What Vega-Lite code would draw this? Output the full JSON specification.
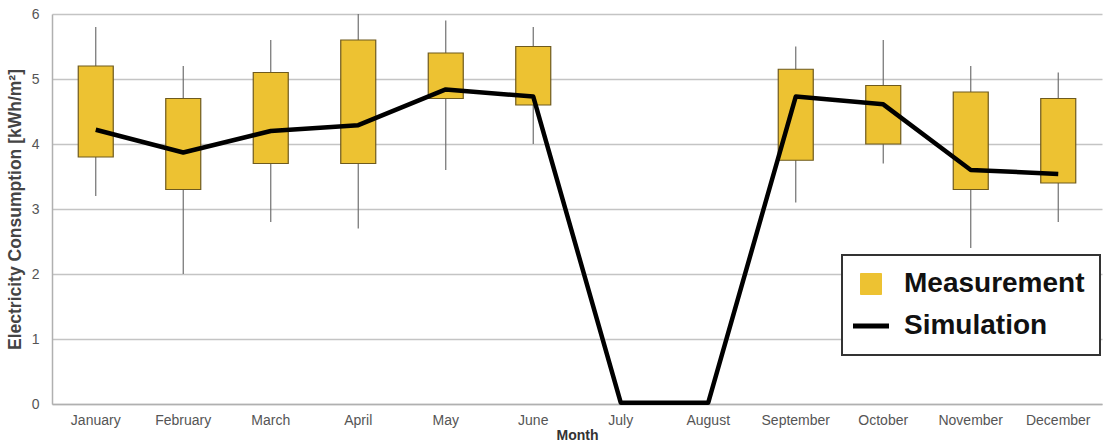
{
  "$schema": "https://vega.github.io/schema/vega-lite/v6.json",
  "width": 1050,
  "height": 390,
  "autosize": {"type": "none"},
  "padding": {"left": 52, "top": 14, "right": 5, "bottom": 41},
  "background": "white",
  "config": {
    "view": {"stroke": null},
    "font": "Liberation Sans"
  },
  "data": {
    "values": [
      {"month": "January", "wlo": 3.2, "q1": 3.8, "q3": 5.2, "whi": 5.8, "sim": 4.22},
      {"month": "February", "wlo": 2.0, "q1": 3.3, "q3": 4.7, "whi": 5.2, "sim": 3.87},
      {"month": "March", "wlo": 2.8, "q1": 3.7, "q3": 5.1, "whi": 5.6, "sim": 4.2},
      {"month": "April", "wlo": 2.7, "q1": 3.7, "q3": 5.6, "whi": 6.0, "sim": 4.29},
      {"month": "May", "wlo": 3.6, "q1": 4.7, "q3": 5.4, "whi": 5.9, "sim": 4.84},
      {"month": "June", "wlo": 4.0, "q1": 4.6, "q3": 5.5, "whi": 5.8, "sim": 4.73},
      {"month": "July", "wlo": null, "q1": null, "q3": null, "whi": null, "sim": 0.02},
      {"month": "August", "wlo": null, "q1": null, "q3": null, "whi": null, "sim": 0.02},
      {"month": "September", "wlo": 3.1, "q1": 3.75, "q3": 5.15, "whi": 5.5, "sim": 4.73},
      {"month": "October", "wlo": 3.7, "q1": 4.0, "q3": 4.9, "whi": 5.6, "sim": 4.61},
      {"month": "November", "wlo": 2.4, "q1": 3.3, "q3": 4.8, "whi": 5.2, "sim": 3.6},
      {"month": "December", "wlo": 2.8, "q1": 3.4, "q3": 4.7, "whi": 5.1, "sim": 3.54}
    ]
  },
  "encoding": {
    "x": {
      "field": "month",
      "type": "nominal",
      "sort": ["January", "February", "March", "April", "May", "June", "July", "August", "September", "October", "November", "December"],
      "scale": {"paddingInner": 0, "paddingOuter": 0},
      "axis": {
        "title": "Month",
        "titleFontSize": 14,
        "titleFontWeight": "bold",
        "titleColor": "#333",
        "titlePadding": 1,
        "labelAngle": 0,
        "labelFontSize": 14,
        "labelColor": "#555",
        "labelPadding": 9,
        "ticks": false,
        "domainColor": "#b0b0b0",
        "domainWidth": 1.5,
        "grid": false
      }
    }
  },
  "layer": [
    {
      "mark": {"type": "rule", "color": "#707070", "strokeWidth": 1.2},
      "encoding": {
        "y": {
          "field": "wlo",
          "type": "quantitative",
          "scale": {"domain": [0, 6], "nice": false},
          "axis": {
            "title": "Electricity Consumption [kWh/m²]",
            "titleFontSize": 17.5,
            "titleFontWeight": "bold",
            "titleColor": "#444",
            "titlePadding": 7,
            "values": [0, 1, 2, 3, 4, 5, 6],
            "format": "d",
            "labelFontSize": 14,
            "labelColor": "#555",
            "labelPadding": 13,
            "ticks": false,
            "domainColor": "#b0b0b0",
            "domainWidth": 1.5,
            "gridColor": "#c4c4c4",
            "gridWidth": 1.5
          }
        },
        "y2": {"field": "whi"}
      }
    },
    {
      "mark": {"type": "bar", "size": 35, "fill": "#EDC232", "stroke": "#6e5a1e", "strokeWidth": 1.2},
      "encoding": {
        "y": {"field": "q1", "type": "quantitative"},
        "y2": {"field": "q3"}
      }
    },
    {
      "mark": {"type": "line", "strokeWidth": 4.5, "strokeJoin": "round"},
      "encoding": {
        "y": {"field": "sim", "type": "quantitative"},
        "color": {
          "datum": "Simulation",
          "scale": {"domain": ["Measurement", "Simulation"], "range": ["#EDC232", "#000000"]},
          "legend": {
            "title": null,
            "orient": "none",
            "legendX": 790,
            "legendY": 241,
            "padding": 15,
            "strokeColor": "#333",
            "fillColor": "white",
            "labelFontSize": 28,
            "labelFontWeight": "bold",
            "labelColor": "#111",
            "labelOffset": 19,
            "labelLimit": 400,
            "rowPadding": 14,
            "symbolSize": 1296,
            "symbolOpacity": 1,
            "encode": {
              "legend": {"update": {"strokeWidth": {"value": 2}}},
              "symbols": {
                "update": {
                  "shape": {"signal": "datum.value === 'Measurement' ? 'square' : 'stroke'"},
                  "size": {"signal": "datum.value === 'Measurement' ? 441 : 1296"},
                  "strokeWidth": {"signal": "datum.value === 'Measurement' ? 1 : 5"},
                  "fill": {"signal": "datum.value === 'Measurement' ? '#EDC232' : 'transparent'"},
                  "stroke": {"signal": "datum.value === 'Measurement' ? '#c9a43a' : '#000000'"},
                  "opacity": {"value": 1}
                }
              }
            }
          }
        }
      }
    }
  ]
}
